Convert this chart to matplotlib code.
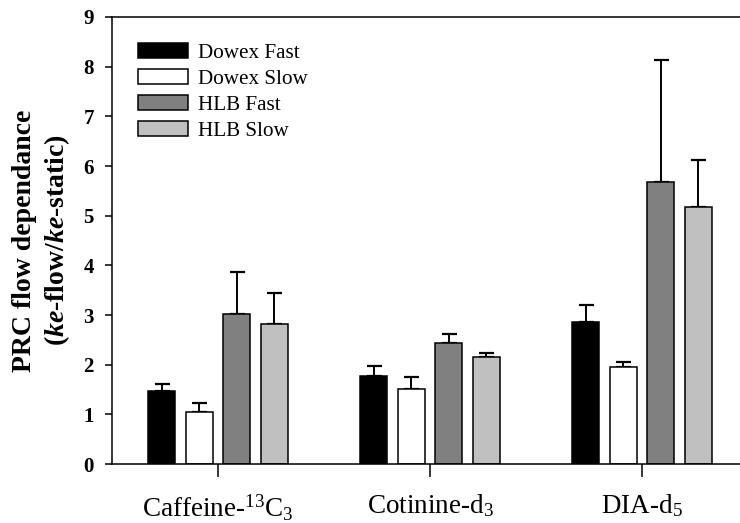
"""PRC flow dependance (ke-flow / ke-static) per compound and sampler."""
import matplotlib
matplotlib.use("Agg")
import matplotlib.pyplot as plt  # noqa: E402
import numpy as np  # noqa: E402

compounds = ["Caffeine-$^{13}$C$_3$", "Cotinine-d$_3$", "DIA-d$_5$"]
series = ["Dowex Fast", "Dowex Slow", "HLB Fast", "HLB Slow"]
means = {
    "Dowex Fast": [1.47, 1.78, 2.85],
    "Dowex Slow": [1.05, 1.52, 1.95],
    "HLB Fast":   [3.02, 2.44, 5.67],
    "HLB Slow":   [2.81, 2.15, 5.17],
}
errors = {
    "Dowex Fast": [0.15, 0.20, 0.35],
    "Dowex Slow": [0.18, 0.24, 0.10],
    "HLB Fast":   [0.85, 0.18, 2.47],
    "HLB Slow":   [0.63, 0.08, 0.95],
}
colors = ["#000000", "#ffffff", "#808080", "#c0c0c0"]

plt.rcParams["font.family"] = ["Liberation Serif", "DejaVu Serif"]
plt.rcParams["mathtext.fontset"] = "custom"
plt.rcParams["mathtext.rm"] = "Liberation Serif"
plt.rcParams["mathtext.it"] = "Liberation Serif:italic"
plt.rcParams["mathtext.bf"] = "Liberation Serif:bold"
plt.rcParams["mathtext.bfit"] = "Liberation Serif:italic:bold"

fig = plt.figure(figsize=(7.40, 5.23), dpi=100)
ax = fig.add_axes([0.1514, 0.1128, 0.8594, 0.8547])

x = np.arange(len(compounds))
pitch, width = 0.1765, 0.127
for i, (name, col) in enumerate(zip(series, colors)):
    pos = x + (i - 1.5) * pitch
    ax.bar(pos, means[name], width, color=col, edgecolor="black", lw=1.1,
           label=name, zorder=2)
    ax.errorbar(pos, means[name], yerr=[np.zeros(len(x)), errors[name]],
                fmt="none", ecolor="black", elinewidth=1.4, capsize=5.4,
                capthick=1.6, zorder=1)

ax.set_xlim(-0.5, 2.5)
ax.set_ylim(0, 9)
ax.set_yticks(range(10))
ax.set_xticks(x, compounds)
for lab in ax.get_yticklabels():
    lab.set_fontweight("bold")
ax.tick_params(axis="y", direction="out", length=5, width=1.1, labelsize=15, pad=8)
ax.tick_params(axis="x", direction="out", length=9.5, width=1.1, labelsize=19.5, pad=11)
for s in ("left", "bottom", "top"):
    ax.spines[s].set_linewidth(1.1)
ax.spines["right"].set_visible(False)

ax.set_ylabel("PRC flow dependance\n($\\mathbfit{ke}$-flow/$\\mathbfit{ke}$-static)",
              fontsize=20, fontweight="bold", labelpad=8, linespacing=1.25)

ax.legend(loc="upper left", bbox_to_anchor=(0.021, 0.97), frameon=False,
          fontsize=15.2, handlelength=2.35, handleheight=0.68,
          labelspacing=0.3, handletextpad=0.5, borderaxespad=0.2)

fig.savefig("out.png", dpi=100)
